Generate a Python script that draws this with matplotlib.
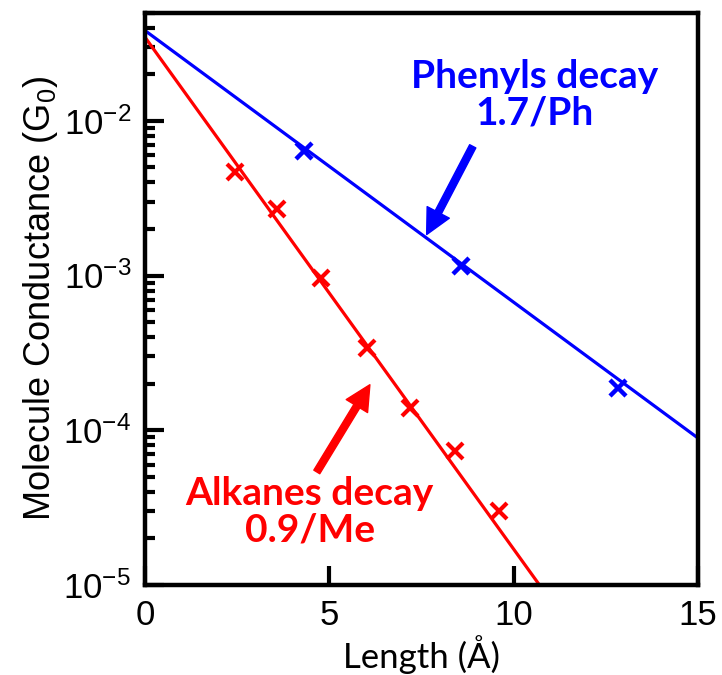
import matplotlib
matplotlib.use("Agg")
import matplotlib.pyplot as plt
from matplotlib.ticker import LogLocator, NullFormatter, NullLocator

plt.rcParams['font.family'] = ['Liberation Sans', 'DejaVu Sans']
plt.rcParams['mathtext.default'] = 'regular'
plt.rcParams['axes.unicode_minus'] = False

# measured points (length in Angstrom, conductance in G0)
phenyl_len = [4.31, 8.56, 12.82]
phenyl_g = [6.4e-3, 1.16e-3, 1.87e-4]
alkane_len = [2.44, 3.58, 4.77, 6.02, 7.18, 8.40, 9.59]
alkane_g = [4.68e-3, 2.68e-3, 9.6e-4, 3.42e-4, 1.39e-4, 7.35e-5, 2.99e-5]

# fitted decay lines (end points)
phenyl_fit_x = [0, 15]
phenyl_fit_y = [3.83e-2, 8.9e-5]
alkane_fit_x = [0, 10.7]
alkane_fit_y = [3.47e-2, 1.0e-5]

blue = '#0000ff'
red = '#ff0000'
ann_font = ['Lato', 'DejaVu Sans']

fig = plt.figure(figsize=(7.22, 6.75), dpi=100)
ax = fig.add_axes([0.2008, 0.1333, 0.766, 0.848])

ax.plot(phenyl_fit_x, phenyl_fit_y, color=blue, lw=2.3)
ax.plot(alkane_fit_x, alkane_fit_y, color=red, lw=2.3)
ax.plot(phenyl_len, phenyl_g, ls='none', marker='x', ms=12, mew=3.2, color=blue)
ax.plot(alkane_len, alkane_g, ls='none', marker='x', ms=11, mew=3, color=red)

ax.set_yscale('log')
ax.set_xlim(0, 15)
ax.set_ylim(1e-5, 5e-2)
ax.set_xticks([0, 5, 10, 15])
ax.xaxis.set_minor_locator(NullLocator())
ax.yaxis.set_major_locator(LogLocator(base=10, numticks=10))
ax.yaxis.set_minor_locator(LogLocator(base=10, subs=range(2, 10), numticks=10))
ax.yaxis.set_minor_formatter(NullFormatter())

for s in ax.spines.values():
    s.set_linewidth(3.2)
ax.tick_params(which='major', direction='in', length=14, width=3, labelsize=25,
               top=False, right=False, pad=10)
ax.tick_params(which='minor', direction='in', length=7, width=3,
               top=False, right=False)

ax.set_ylabel('Molecule Conductance (G$_0$)', fontsize=26, labelpad=2)
ax.set_xlabel('Length (Å)', fontsize=25, family=ann_font, labelpad=2)

ax.annotate('', xy=(7.64, 1.84e-3), xytext=(8.89, 6.84e-3),
            arrowprops=dict(color=blue, width=5, headwidth=18, headlength=18))
ax.text(10.57, 1.48e-2, 'Phenyls decay\n1.7/Ph', color=blue, fontsize=28,
        fontweight='bold', family=ann_font, ha='center', va='center',
        linespacing=1.05)

ax.annotate('', xy=(6.10, 1.97e-4), xytext=(4.66, 5.38e-5),
            arrowprops=dict(color=red, width=5, headwidth=18, headlength=18))
ax.text(4.47, 2.96e-5, 'Alkanes decay\n0.9/Me', color=red, fontsize=28,
        fontweight='bold', family=ann_font, ha='center', va='center',
        linespacing=1.05)

fig.savefig('out.png', dpi=100)
